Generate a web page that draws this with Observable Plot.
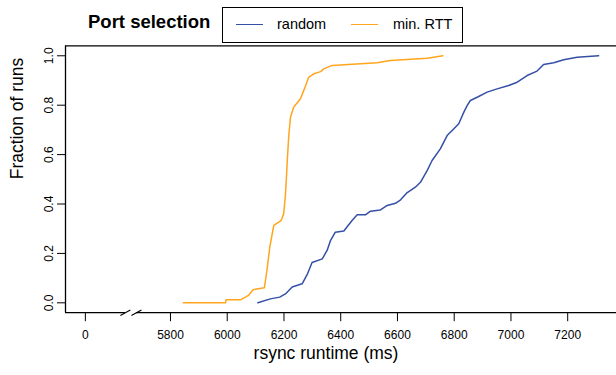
<!DOCTYPE html>
<html>
<head>
<meta charset="utf-8">
<script src="https://cdn.jsdelivr.net/npm/d3@7"></script>
<script src="https://cdn.jsdelivr.net/npm/@observablehq/plot@0.6"></script>
<style>
  html, body { margin: 0; padding: 0; background: #fff; overflow: hidden; }
  #chart { width: 616px; font-family: "Liberation Sans", Arial, Helvetica, sans-serif; color: #000; }
  #head { position: relative; width: 616px; height: 44px; }
  #title { position: absolute; left: 88px; top: 13px; font-size: 18.5px; line-height: 18px; font-weight: bold; white-space: nowrap; }
  #legend { position: absolute; left: 222px; top: 7px; width: 241px; height: 36px; box-sizing: border-box; border: 1.3px solid #000; }
  .item { position: absolute; top: 9px; font-size: 14.5px; line-height: 14.5px; white-space: nowrap; }
  .swatch { position: absolute; top: 16px; height: 0; width: 27px; border-top: 1.5px solid; }
</style>
</head>
<body>
<div id="chart">
  <div id="head">
    <div id="title">Port selection</div>
    <div id="legend"></div>
  </div>
  <div id="plot"></div>
</div>
<script>
// ECDF of rsync runtimes for the two port-selection strategies
const minRttMs   = [5845, 5994, 5996, 6047, 6075, 6091, 6131, 6140, 6150, 6164, 6190, 6199, 6205, 6210, 6212, 6217, 6223, 6234, 6258, 6272, 6287, 6305, 6329, 6340, 6370, 6528, 6575, 6705, 6760];
const minRttFrac = [0, 0, 0.012, 0.012, 0.030, 0.053, 0.061, 0.131, 0.225, 0.313, 0.333, 0.360, 0.434, 0.536, 0.583, 0.677, 0.751, 0.792, 0.826, 0.866, 0.913, 0.927, 0.936, 0.947, 0.961, 0.972, 0.981, 0.990, 1.0];

const randomMs   = [6108, 6152, 6185, 6205, 6229, 6264, 6282, 6299, 6335, 6352, 6364, 6381, 6411, 6440, 6458, 6487, 6505, 6540, 6564, 6593, 6611, 6632, 6663, 6681, 6705, 6722, 6751, 6775, 6798, 6816, 6834, 6846, 6857, 6881, 6916, 6951, 6992, 7022, 7057, 7092, 7115, 7151, 7186, 7233, 7309];
const randomFrac = [0, 0.016, 0.023, 0.036, 0.064, 0.077, 0.115, 0.163, 0.178, 0.212, 0.252, 0.286, 0.291, 0.333, 0.356, 0.356, 0.371, 0.376, 0.394, 0.403, 0.417, 0.444, 0.468, 0.488, 0.536, 0.576, 0.623, 0.677, 0.704, 0.725, 0.772, 0.799, 0.819, 0.832, 0.853, 0.866, 0.880, 0.893, 0.920, 0.938, 0.965, 0.972, 0.984, 0.994, 1.0];

const seriesNames  = ["random", "min. RTT"];
const seriesColors = ["#3450a6", "#ffa51e"];

const xTicks = [0, 5800, 6000, 6200, 6400, 6600, 6800, 7000, 7200];
const yTicks = [0, 0.2, 0.4, 0.6, 0.8, 1.0];

// The axis is broken between 0 and 5800: the "0" tick sits just left of the break.
const zeroAt = 5500;
const xPos = d => (d === 0 ? zeroAt : d);

const width = 616, height = 331;
const marginLeft = 65, marginRight = 0, marginTop = 1.4, marginBottom = 62.8;
const xDomain = [5430, 7372];
const yDomain = [-0.04, 1.04];

// pixel size helpers for the break glyph
const pxPerX = (width - marginLeft - marginRight) / (xDomain[1] - xDomain[0]);
const pxPerY = (height - marginTop - marginBottom) / (yDomain[1] - yDomain[0]);
const breakCenters = [5641, 5680];
const slashHalfW = 5 / pxPerX, slashHalfH = 2.8 / pxPerY;

const rows = (ms, frac, name) => ms.map((m, i) => ({ms: m, frac: frac[i], series: name}));
const data = [
  ...rows(randomMs, randomFrac, seriesNames[0]),
  ...rows(minRttMs, minRttFrac, seriesNames[1])
];

const chart = Plot.plot({
  width, height, marginLeft, marginRight, marginTop, marginBottom,
  style: {fontFamily: '"Liberation Sans", Arial, Helvetica, sans-serif', fontSize: "12px", color: "#000", background: "#fff", overflow: "hidden"},
  x: {type: "linear", domain: xDomain},
  y: {type: "linear", domain: yDomain},
  color: {domain: seriesNames, range: seriesColors},
  marks: [
    // plot frame: left, top, and the broken bottom axis line
    Plot.ruleX([xDomain[0]], {y1: yDomain[0], y2: yDomain[1], stroke: "#000", strokeWidth: 1.3}),
    Plot.ruleY([yDomain[1]], {x1: xDomain[0], x2: xDomain[1], stroke: "#000", strokeWidth: 1.3}),
    Plot.ruleY([{a: xDomain[0], b: breakCenters[0]}, {a: breakCenters[1], b: xDomain[1]}],
      {y: () => yDomain[0], x1: "a", x2: "b", stroke: "#000", strokeWidth: 1.3}),
    Plot.link(breakCenters, {
      x1: d => d - slashHalfW, y1: () => yDomain[0] - slashHalfH,
      x2: d => d + slashHalfW, y2: () => yDomain[0] + slashHalfH,
      stroke: "#000", strokeWidth: 1.1
    }),
    Plot.axisX({
      ticks: xTicks.map(xPos), tickSize: 9, tickPadding: 9, fontSize: 12,
      tickFormat: d => (d === zeroAt ? "0" : String(d)), label: null
    }),
    Plot.axisY({
      ticks: yTicks, tickSize: 8, tickPadding: 5, tickRotate: -90, fontSize: 12,
      tickFormat: d3.format(".1f"), label: null
    }),
    Plot.line(data, {x: "ms", y: "frac", z: "series", stroke: "series", strokeWidth: 1.5}),
    Plot.text(["Fraction of runs"], {frameAnchor: "left", dx: -48, rotate: -90, fontSize: 17.5, fill: "#000"}),
    Plot.text(["rsync runtime (ms)"], {frameAnchor: "bottom", dx: -15, dy: 46.5, fontSize: 17.5, fill: "#000"})
  ]
});
document.getElementById("plot").appendChild(chart);

// legend entries
const legend = document.getElementById("legend");
const swatchLeft = [13, 128], textLeft = [54, 170];
seriesNames.forEach((name, i) => {
  const sw = document.createElement("div");
  sw.className = "swatch";
  sw.style.left = swatchLeft[i] + "px";
  sw.style.borderTopColor = seriesColors[i];
  legend.appendChild(sw);
  const t = document.createElement("div");
  t.className = "item";
  t.style.left = textLeft[i] + "px";
  t.textContent = name;
  legend.appendChild(t);
});
</script>
</body>
</html>
